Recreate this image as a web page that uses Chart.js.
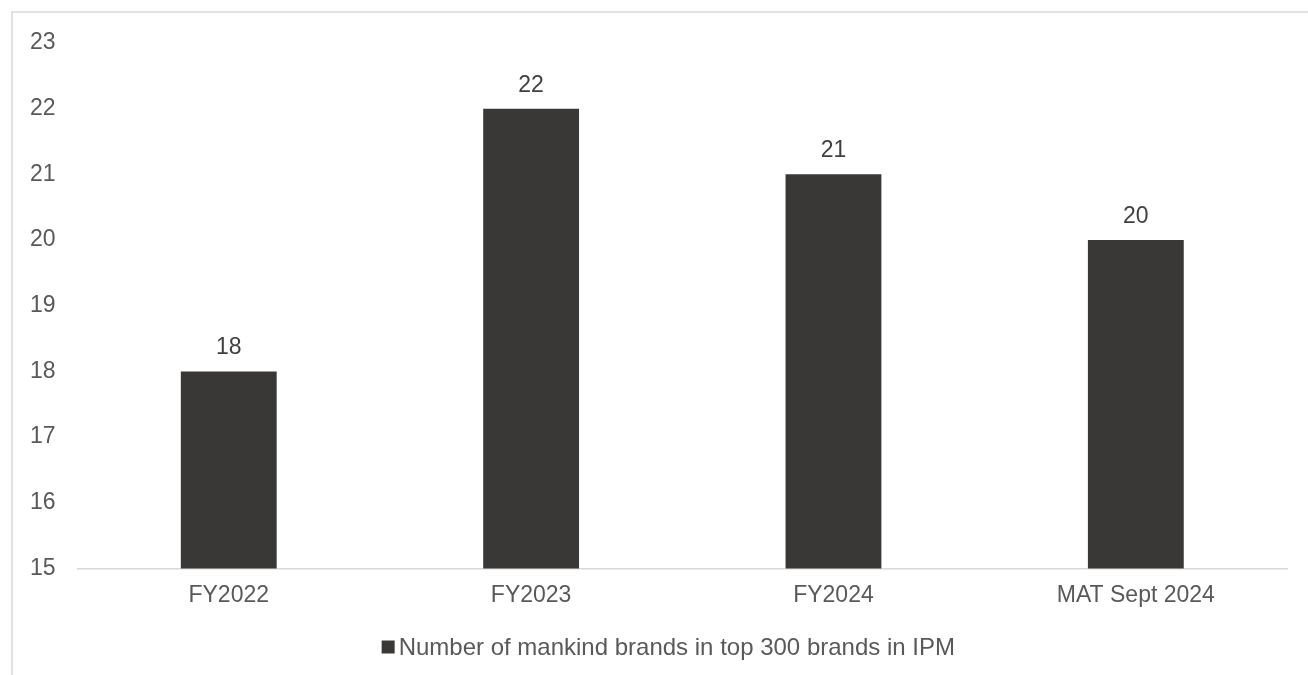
<!DOCTYPE html>
<html>
<head>
<meta charset="utf-8">
<script src="https://cdn.jsdelivr.net/npm/chart.js@4"></script>
<style>
  html, body { margin: 0; padding: 0; background: #fff; }
  #wrap { width: 1308px; height: 675px; }
</style>
</head>
<body>
<div id="wrap"><canvas id="brandChart" width="1308" height="675"></canvas></div>
<script>
const categories = ['FY2022', 'FY2023', 'FY2024', 'MAT Sept 2024'];
const brandCounts = [18, 22, 21, 20];
const seriesName = 'Number of mankind brands in top 300 brands in IPM';

const ctx = document.getElementById('brandChart');
const fontFamily = '"Liberation Sans", Arial, sans-serif';
const barColor = '#3a3836';

// frame line on top and left, like the pasted chart box
const framePlugin = {
    id: 'frame',
    beforeDraw: (chart) => {
        const c = chart.ctx;
        c.save();
        c.strokeStyle = '#d9d9d9';
        c.lineWidth = 1.5;
        c.beginPath();
        c.moveTo(12, chart.height);
        c.lineTo(12, 12);
        c.lineTo(chart.width, 12);
        c.stroke();
        c.restore();
    }
};

// value labels above bars + legend drawn by hand (tight gap between box and text)
const labelsPlugin = {
    id: 'valueLabels',
    afterDatasetsDraw: (chart) => {
        const c = chart.ctx;
        const meta = chart.getDatasetMeta(0);
        c.save();
        c.font = '23px ' + fontFamily;
        c.fillStyle = '#404040';
        c.textAlign = 'center';
        c.textBaseline = 'alphabetic';
        meta.data.forEach((bar, i) => {
            c.fillText(chart.data.datasets[0].data[i], bar.x, bar.y - 17);
        });

        // legend
        const label = chart.data.datasets[0].label;
        c.font = '24px ' + fontFamily;
        const tw = c.measureText(label).width;
        const box = 13, gap = 4;
        const total = box + gap + tw;
        const cx = (chart.chartArea.left + chart.chartArea.right) / 2 - 14;
        const x0 = cx - total / 2;
        const cy = 647;
        c.fillStyle = barColor;
        c.fillRect(x0, cy - box / 2, box, box);
        c.fillStyle = '#595959';
        c.textAlign = 'left';
        c.textBaseline = 'middle';
        c.fillText(label, x0 + box + gap, cy + 1);
        c.restore();
    }
};

const data = {
    labels: categories,
    datasets: [{
        label: seriesName,
        data: brandCounts,
        backgroundColor: barColor,
        barPercentage: 0.317,
        categoryPercentage: 1.0
    }]
};

const config = {
    type: 'bar',
    data: data,
    options: {
        responsive: false,
        animation: false,
        layout: {
            padding: { top: 43, left: 8, right: 21, bottom: 61 }
        },
        scales: {
            x: {
                grid: { display: false },
                border: { display: true, color: '#d9d9d9', width: 1.5 },
                ticks: {
                    color: '#595959',
                    padding: 5,
                    font: { size: 23, family: fontFamily }
                }
            },
            y: {
                min: 15,
                max: 23,
                grid: { display: false, drawTicks: false },
                border: { display: false },
                ticks: {
                    stepSize: 1,
                    color: '#595959',
                    padding: 22,
                    font: { size: 23, family: fontFamily }
                }
            }
        },
        plugins: {
            legend: { display: false },
            tooltip: { enabled: false }
        }
    },
    plugins: [framePlugin, labelsPlugin]
};

const brandChart = new Chart(ctx.getContext('2d'), config);
</script>
</body>
</html>
